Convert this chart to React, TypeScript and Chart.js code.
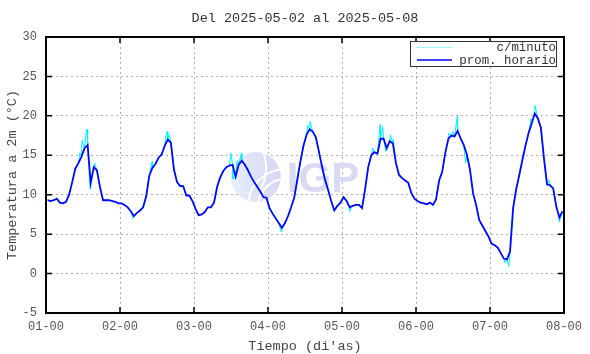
import React, { useEffect, useRef } from 'react';
import { Chart, registerables } from 'chart.js';

Chart.register(...registerables);

// ---- data ----
const titleText = 'Del 2025-05-02 al 2025-05-08';
const xAxisTitle = "Tiempo (di'as)";
const yAxisTitle = 'Temperatura a 2m (°C)';
const dayTicks = ['01-00', '02-00', '03-00', '04-00', '05-00', '06-00', '07-00', '08-00'];
const yTicks = [-5, 0, 5, 10, 15, 20, 25, 30];
const seriesNames = ['c/minuto', 'prom. horario'];

// hourly means (prom. horario), one value per hour of each day
const day1 = [9.3, 9.2, 9.3, 9.5, 9.0, 8.9, 9.1, 10.0, 11.6, 13.3, 14.0, 14.8, 15.9, 16.3, 11.5, 13.5, 13.1, 11.0, 9.3, 9.3, 9.3, 9.2, 9.1, 8.9];
const day2 = [8.9, 8.7, 8.4, 7.9, 7.3, 7.7, 8.0, 8.4, 9.8, 12.4, 13.4, 13.9, 14.7, 15.1, 16.2, 17.0, 16.6, 13.2, 11.6, 11.1, 11.1, 9.9, 9.9, 9.2];
const day3 = [8.2, 7.4, 7.5, 7.8, 8.4, 8.4, 9.0, 11.0, 12.2, 13.0, 13.5, 13.7, 13.8, 12.3, 13.8, 14.3, 13.8, 13.1, 12.3, 11.6, 11.0, 10.4, 9.7, 9.6];
const day4 = [8.3, 7.6, 7.0, 6.4, 5.8, 6.4, 7.3, 8.4, 9.6, 11.9, 14.2, 16.2, 17.6, 18.3, 18.0, 17.3, 15.5, 13.6, 11.9, 10.6, 9.2, 8.0, 8.6, 9.0];
const day5 = [9.7, 9.2, 8.4, 8.6, 8.7, 8.7, 8.3, 10.7, 13.5, 15.0, 15.4, 15.2, 17.1, 17.1, 15.9, 16.8, 16.5, 14.0, 12.5, 12.1, 11.8, 11.5, 10.2, 9.5];
const day6 = [9.2, 9.0, 8.9, 8.8, 9.0, 8.7, 9.4, 11.8, 12.9, 15.3, 17.1, 17.5, 17.4, 18.1, 17.1, 16.3, 15.1, 13.2, 10.2, 8.7, 6.8, 6.1, 5.4, 4.7];
const day7 = [3.8, 3.6, 3.3, 2.6, 1.9, 1.8, 2.8, 8.3, 10.7, 12.5, 14.4, 16.2, 17.8, 19.0, 20.3, 19.7, 18.5, 14.6, 11.3, 11.2, 10.8, 8.5, 7.1, 7.9];

// per-minute excursions seen around the hourly curve: [hours since start, value]
const minuteSpikes: [number, number][] = [
  [11.0, 15.3], [11.7, 16.9], [12.9, 17.5], [13.3, 18.3], [14.3, 10.7], [15.8, 14.0],
  [28.2, 7.0], [34.4, 14.2], [38.9, 17.5], [39.3, 18.0], [40.0, 17.6],
  [59.9, 15.3], [60.6, 12.0], [62.0, 14.3], [63.4, 15.3],
  [76.3, 5.3], [84.9, 18.8], [85.6, 19.3],
  [98.5, 7.9], [106.0, 15.9], [108.4, 18.9], [109.2, 18.6], [110.2, 15.5], [111.7, 17.6], [112.6, 17.0],
  [130.6, 17.8], [132.0, 18.0], [133.4, 19.9], [135.0, 16.8], [136.1, 14.0],
  [148.8, 1.4], [150.1, 0.9], [157.3, 19.6], [158.6, 21.3], [163.1, 11.9], [166.5, 6.6],
];

const hourly = [...day1, ...day2, ...day3, ...day4, ...day5, ...day6, ...day7];

const MONO = '"Liberation Mono", "DejaVu Sans Mono", monospace';

export default function App() {
  const ref = useRef<HTMLCanvasElement | null>(null);

  useEffect(() => {
    document.body.style.margin = '0';
    const canvas = ref.current;
    if (!canvas) return;

    const bluePts = hourly.map((v, i) => ({ x: i + 0.5, y: v }));
    const cyanPts = [...bluePts, ...minuteSpikes.map(([x, y]) => ({ x, y }))].sort((a, b) => a.x - b.x);

    const decor = {
      id: 'decor',
      beforeDatasetsDraw(chart: any) {
        const { ctx, chartArea: ca } = chart;
        const cx = ca.left + (ca.right - ca.left) * 0.405;
        const cy = (ca.top + ca.bottom) / 2 + 2;
        ctx.save();
        ctx.globalAlpha = 0.9;
        const g = ctx.createLinearGradient(cx - 25, cy, cx + 25, cy);
        g.addColorStop(0, '#e4eeff');
        g.addColorStop(1, '#d2d2f0');
        ctx.fillStyle = g;
        ctx.beginPath();
        ctx.arc(cx, cy, 25, 0, Math.PI * 2);
        ctx.fill();
        ctx.globalAlpha = 1;
        ctx.strokeStyle = '#ffffff';
        ctx.lineWidth = 2;
        ctx.beginPath();
        ctx.arc(cx + 30, cy + 30, 38, Math.PI * 1.05, Math.PI * 1.45);
        ctx.stroke();
        ctx.beginPath();
        ctx.arc(cx + 30, cy + 30, 28, Math.PI * 1.0, Math.PI * 1.5);
        ctx.stroke();
        ctx.beginPath();
        ctx.arc(cx - 40, cy - 10, 50, -0.35, 0.5);
        ctx.stroke();
        ctx.globalAlpha = 0.9;
        ctx.fillStyle = '#d6d6f2';
        ctx.font = 'bold 42px "Liberation Sans", Arial, sans-serif';
        ctx.textAlign = 'left';
        ctx.textBaseline = 'alphabetic';
        ctx.fillText('IGP', cx + 31, cy + 15);
        ctx.restore();
      },
      afterDraw(chart: any) {
        const { ctx, chartArea: ca, scales } = chart;
        ctx.save();
        // tick marks (inward)
        ctx.strokeStyle = '#000';
        ctx.lineWidth = 1.5;
        ctx.beginPath();
        dayTicks.forEach((_, i) => {
          const px = scales.x.getPixelForValue(i * 24);
          ctx.moveTo(px, ca.bottom);
          ctx.lineTo(px, ca.bottom - 6);
          ctx.moveTo(px, ca.top);
          ctx.lineTo(px, ca.top + 6);
        });
        yTicks.forEach((v) => {
          const py = scales.y.getPixelForValue(v);
          ctx.moveTo(ca.left, py);
          ctx.lineTo(ca.left + 6, py);
          ctx.moveTo(ca.right, py);
          ctx.lineTo(ca.right - 6, py);
        });
        ctx.stroke();
        // frame
        ctx.lineWidth = 2;
        ctx.strokeRect(ca.left, ca.top, ca.right - ca.left, ca.bottom - ca.top);

        // title
        const midX = (ca.left + ca.right) / 2;
        ctx.fillStyle = '#333';
        ctx.font = `13.5px ${MONO}`;
        ctx.textAlign = 'center';
        ctx.textBaseline = 'middle';
        ctx.fillText(titleText, midX, 18);
        // x axis title
        ctx.fillStyle = '#444';
        ctx.fillText(xAxisTitle, midX, ca.bottom + 33);
        // y axis title
        ctx.save();
        ctx.translate(12, (ca.top + ca.bottom) / 2);
        ctx.rotate(-Math.PI / 2);
        ctx.fillText(yAxisTitle, 0, 0);
        ctx.restore();

        // legend
        const bw = 146, bh = 25;
        const bx = ca.right - 8 - bw;
        const by = ca.top + 4;
        ctx.fillStyle = '#fff';
        ctx.fillRect(bx, by, bw, bh);
        ctx.strokeStyle = '#333';
        ctx.lineWidth = 1;
        ctx.strokeRect(bx + 0.5, by + 0.5, bw, bh);
        const rows = [
          { color: '#9ff8ff', y: by + 6.5, w: 1 },
          { color: '#0000ff', y: by + 19, w: 1.6 },
        ];
        ctx.font = `12.4px ${MONO}`;
        ctx.textAlign = 'right';
        ctx.textBaseline = 'middle';
        rows.forEach((r, i) => {
          ctx.strokeStyle = r.color;
          ctx.lineWidth = r.w;
          ctx.beginPath();
          ctx.moveTo(bx + 7, r.y);
          ctx.lineTo(bx + 42, r.y);
          ctx.stroke();
          ctx.fillStyle = '#333';
          ctx.fillText(seriesNames[i], bx + bw, r.y + 0.5);
        });
        ctx.restore();
      },
    };

    const chart = new Chart(canvas, {
      type: 'line',
      data: {
        datasets: [
          {
            label: seriesNames[0],
            data: cyanPts,
            borderColor: '#00f0ff',
            borderWidth: 1,
            pointRadius: 0,
            tension: 0,
            order: 2,
          },
          {
            label: seriesNames[1],
            data: bluePts,
            borderColor: '#0008ff',
            borderWidth: 1.8,
            pointRadius: 0,
            tension: 0,
            order: 1,
          },
        ],
      },
      options: {
        responsive: false,
        animation: false,
        layout: { padding: { top: 37, right: 26, left: 0, bottom: 0 } },
        plugins: {
          legend: { display: false },
          title: { display: false },
          tooltip: { enabled: false },
        },
        scales: {
          x: {
            type: 'linear',
            min: 0,
            max: 168,
            afterFit: (s: any) => { s.height = 41; },
            afterBuildTicks: (s: any) => { s.ticks = dayTicks.map((_, i) => ({ value: i * 24 })); },
            ticks: {
              callback: (v: any) => dayTicks[Math.round(Number(v) / 24)],
              font: { family: MONO, size: 12 },
              color: '#555',
              padding: 7,
              maxRotation: 0,
              autoSkip: false,
            },
            grid: { color: '#b0b0b0', lineWidth: 1, drawTicks: false },
            border: { display: false, dash: [2, 3] },
          },
          y: {
            type: 'linear',
            min: -5,
            max: 30,
            afterFit: (s: any) => { s.width = 46; },
            afterBuildTicks: (s: any) => { s.ticks = yTicks.map((v) => ({ value: v })); },
            ticks: {
              font: { family: MONO, size: 12 },
              color: '#555',
              padding: 9,
            },
            grid: { color: '#b0b0b0', lineWidth: 1, drawTicks: false },
            border: { display: false, dash: [2, 3] },
          },
        },
      },
      plugins: [decor],
    } as any);

    return () => chart.destroy();
  }, []);

  return (
    <div style={{ position: 'fixed', left: 0, top: 0, width: 590, height: 354, background: '#fff' }}>
      <canvas ref={ref} width={590} height={354} style={{ display: 'block', width: 590, height: 354 }} />
    </div>
  );
}
